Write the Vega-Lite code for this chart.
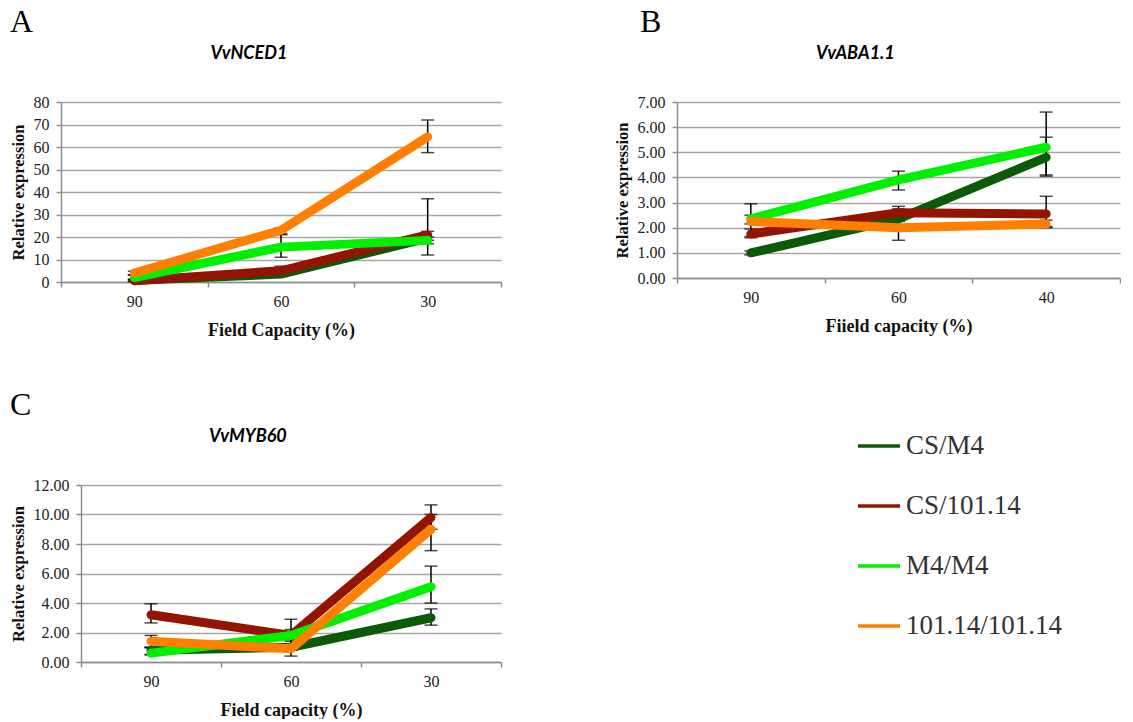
{
  "$schema": "https://vega.github.io/schema/vega-lite/v6.json",
  "padding": {"left": 9, "top": 6, "right": 0, "bottom": 0},
  "background": "white",
  "datasets": {
    "expr": [
      {"panel": "A", "fc": "90", "series": "CS/M4", "value": 0.8, "lo": 0.3, "hi": 1.3},
      {"panel": "A", "fc": "60", "series": "CS/M4", "value": 3.5, "lo": 2.5, "hi": 4.5},
      {"panel": "A", "fc": "30", "series": "CS/M4", "value": 19.5, "lo": 18.5, "hi": 22.5},
      {"panel": "A", "fc": "90", "series": "CS/101.14", "value": 0.6, "lo": 0.2, "hi": 1.0},
      {"panel": "A", "fc": "60", "series": "CS/101.14", "value": 5, "lo": 3, "hi": 7},
      {"panel": "A", "fc": "30", "series": "CS/101.14", "value": 21, "lo": 12, "hi": 37},
      {"panel": "A", "fc": "90", "series": "M4/M4", "value": 2, "lo": 1, "hi": 3},
      {"panel": "A", "fc": "60", "series": "M4/M4", "value": 15.5, "lo": 11, "hi": 21},
      {"panel": "A", "fc": "30", "series": "M4/M4", "value": 18.5, "lo": 17, "hi": 20},
      {"panel": "A", "fc": "90", "series": "101.14/101.14", "value": 4, "lo": 3.2, "hi": 4.8},
      {"panel": "A", "fc": "60", "series": "101.14/101.14", "value": 23, "lo": 21.5, "hi": 24},
      {"panel": "A", "fc": "30", "series": "101.14/101.14", "value": 64.5, "lo": 57.5, "hi": 72},

      {"panel": "B", "fc": "90", "series": "CS/M4", "value": 1.0, "lo": 0.92, "hi": 1.08},
      {"panel": "B", "fc": "60", "series": "CS/M4", "value": 2.35, "lo": 2.25, "hi": 2.45},
      {"panel": "B", "fc": "40", "series": "CS/M4", "value": 4.8, "lo": 4.05, "hi": 5.6},
      {"panel": "B", "fc": "90", "series": "CS/101.14", "value": 1.75, "lo": 1.6, "hi": 1.95},
      {"panel": "B", "fc": "60", "series": "CS/101.14", "value": 2.6, "lo": 2.3, "hi": 2.85},
      {"panel": "B", "fc": "40", "series": "CS/101.14", "value": 2.55, "lo": 2.05, "hi": 3.25},
      {"panel": "B", "fc": "90", "series": "M4/M4", "value": 2.35, "lo": 2.15, "hi": 2.5},
      {"panel": "B", "fc": "60", "series": "M4/M4", "value": 3.9, "lo": 3.5, "hi": 4.25},
      {"panel": "B", "fc": "40", "series": "M4/M4", "value": 5.2, "lo": 4.1, "hi": 6.6},
      {"panel": "B", "fc": "90", "series": "101.14/101.14", "value": 2.25, "lo": 1.65, "hi": 2.95},
      {"panel": "B", "fc": "60", "series": "101.14/101.14", "value": 2.0, "lo": 1.5, "hi": 2.75},
      {"panel": "B", "fc": "40", "series": "101.14/101.14", "value": 2.15, "lo": 2.0, "hi": 2.3},

      {"panel": "C", "fc": "90", "series": "CS/M4", "value": 0.8, "lo": 0.5, "hi": 1.0},
      {"panel": "C", "fc": "60", "series": "CS/M4", "value": 1.0, "lo": 0.8, "hi": 1.2},
      {"panel": "C", "fc": "30", "series": "CS/M4", "value": 3.0, "lo": 2.5, "hi": 3.6},
      {"panel": "C", "fc": "90", "series": "CS/101.14", "value": 3.2, "lo": 2.65, "hi": 3.95},
      {"panel": "C", "fc": "60", "series": "CS/101.14", "value": 1.8, "lo": 1.5, "hi": 2.2},
      {"panel": "C", "fc": "30", "series": "CS/101.14", "value": 9.8, "lo": 9.0, "hi": 10.65},
      {"panel": "C", "fc": "90", "series": "M4/M4", "value": 0.6, "lo": 0.5, "hi": 0.95},
      {"panel": "C", "fc": "60", "series": "M4/M4", "value": 1.8, "lo": 1.2, "hi": 2.9},
      {"panel": "C", "fc": "30", "series": "M4/M4", "value": 5.1, "lo": 4.0, "hi": 6.5},
      {"panel": "C", "fc": "90", "series": "101.14/101.14", "value": 1.4, "lo": 1.0, "hi": 1.8},
      {"panel": "C", "fc": "60", "series": "101.14/101.14", "value": 0.9, "lo": 0.4, "hi": 1.4},
      {"panel": "C", "fc": "30", "series": "101.14/101.14", "value": 9.0, "lo": 7.55, "hi": 10.0}
    ]
  },
  "data": {"name": "expr"},
  "config": {
    "view": {"stroke": null},
    "font": "Liberation Serif",
    "axis": {
      "labelFont": "Liberation Serif", "labelFontSize": 16, "labelColor": "#222",
      "titleFont": "Liberation Serif", "titleFontSize": 18, "titleFontWeight": "bold", "titleColor": "#111",
      "domainColor": "#8c8c8c", "domainWidth": 1.5, "tickColor": "#8c8c8c", "tickWidth": 1.5, "tickSize": 5,
      "gridColor": "#a6a6a6", "gridWidth": 1.5
    },
    "axisY": {"labelPadding": 7, "titlePadding": 7, "titleFontSize": 16.5},
    "axisX": {"labelPadding": 6, "titlePadding": 12, "grid": false, "labelAngle": 0},
    "title": {"color": "#000"},
    "legend": {
      "orient": "none", "legendX": 847, "legendY": 321,
      "symbolType": "stroke", "symbolSize": 1764, "symbolStrokeWidth": 3.5,
      "labelFont": "Liberation Serif", "labelFontSize": 27, "labelColor": "#333",
      "rowPadding": 24, "labelOffset": 4
    }
  },
  "vconcat": [
    {
      "hconcat": [
        {"width": 1, "height": 1, "transform": [{"filter": "false"}], "mark": {"type": "point", "opacity": 0}},
        {
          "hconcat": [
            {
              "title": {"text": "A", "anchor": "start", "frame": "bounds", "font": "Liberation Serif", "fontSize": 32, "fontWeight": "normal", "offset": 6},
              "vconcat": [
                {
                  "width": 440, "height": 180,
                  "title": {"text": "VvNCED1", "anchor": "middle", "frame": "bounds", "font": "Lato", "fontSize": 18, "fontWeight": "bold", "fontStyle": "italic", "offset": 31, "dx": -7},
                  "transform": [{"filter": "datum.panel === 'A'"}],
                  "encoding": {
                    "x": {"field": "fc", "type": "nominal", "bandPosition": 0.5,
                      "scale": {"type": "band", "domain": ["90", "60", "30"], "paddingInner": 0, "paddingOuter": 0},
                      "axis": {"title": "Field Capacity (%)", "tickBand": "extent"}}
                  },
                  "layer": [
                    {"mark": {"type": "rule", "color": "black", "strokeWidth": 1.5},
                      "encoding": {
                        "y": {"field": "lo", "type": "quantitative", "title": "Relative expression",
                          "scale": {"domain": [0, 80], "nice": false},
                          "axis": {"values": [0, 10, 20, 30, 40, 50, 60, 70, 80], "format": "d"}},
                        "y2": {"field": "hi"}}},
                    {"mark": {"type": "tick", "color": "black", "thickness": 1.5, "size": 13},
                      "encoding": {"y": {"field": "lo", "type": "quantitative", "title": "Relative expression",
                        "axis": {"values": [0, 10, 20, 30, 40, 50, 60, 70, 80], "format": "d"}}}},
                    {"mark": {"type": "tick", "color": "black", "thickness": 1.5, "size": 13},
                      "encoding": {"y": {"field": "hi", "type": "quantitative", "title": "Relative expression",
                        "axis": {"values": [0, 10, 20, 30, 40, 50, 60, 70, 80], "format": "d"}}}},
                    {"mark": {"type": "line", "strokeWidth": 9, "strokeCap": "round", "strokeJoin": "round"},
                      "encoding": {
                        "y": {"field": "value", "type": "quantitative", "title": "Relative expression",
                          "axis": {"values": [0, 10, 20, 30, 40, 50, 60, 70, 80], "format": "d"}},
                        "color": {"field": "series", "type": "nominal", "title": null,
                          "scale": {"domain": ["CS/M4", "CS/101.14", "M4/M4", "101.14/101.14"], "range": ["#0b5a08", "#931400", "#00f000", "#ff8000"]}}}}
                  ]
                }
              ]
            },
            {
              "title": {"text": "B", "anchor": "start", "frame": "bounds", "font": "Liberation Serif", "fontSize": 32, "fontWeight": "normal", "offset": 6, "dx": 26},
              "vconcat": [
                {
                  "width": 443, "height": 176,
                  "title": {"text": "VvABA1.1", "anchor": "middle", "frame": "bounds", "font": "Lato", "fontSize": 18, "fontWeight": "bold", "fontStyle": "italic", "offset": 31, "dx": -12},
                  "transform": [{"filter": "datum.panel === 'B'"}],
                  "encoding": {
                    "x": {"field": "fc", "type": "nominal", "bandPosition": 0.5,
                      "scale": {"type": "band", "domain": ["90", "60", "40"], "paddingInner": 0, "paddingOuter": 0},
                      "axis": {"title": "Fiield capacity (%)", "tickBand": "extent"}}
                  },
                  "layer": [
                    {"mark": {"type": "rule", "color": "black", "strokeWidth": 1.5},
                      "encoding": {
                        "y": {"field": "lo", "type": "quantitative", "title": "Relative expression",
                          "scale": {"domain": [0, 7], "nice": false},
                          "axis": {"values": [0, 1, 2, 3, 4, 5, 6, 7], "format": ".2f"}},
                        "y2": {"field": "hi"}}},
                    {"mark": {"type": "tick", "color": "black", "thickness": 1.5, "size": 13},
                      "encoding": {"y": {"field": "lo", "type": "quantitative", "title": "Relative expression",
                        "axis": {"values": [0, 1, 2, 3, 4, 5, 6, 7], "format": ".2f"}}}},
                    {"mark": {"type": "tick", "color": "black", "thickness": 1.5, "size": 13},
                      "encoding": {"y": {"field": "hi", "type": "quantitative", "title": "Relative expression",
                        "axis": {"values": [0, 1, 2, 3, 4, 5, 6, 7], "format": ".2f"}}}},
                    {"mark": {"type": "line", "strokeWidth": 9, "strokeCap": "round", "strokeJoin": "round"},
                      "encoding": {
                        "y": {"field": "value", "type": "quantitative", "title": "Relative expression",
                          "axis": {"values": [0, 1, 2, 3, 4, 5, 6, 7], "format": ".2f"}},
                        "color": {"field": "series", "type": "nominal", "title": null}}}
                  ]
                }
              ]
            }
          ],
          "spacing": 112
        }
      ],
      "spacing": 0
    },
    {
      "hconcat": [
        {"width": 1, "height": 1, "transform": [{"filter": "false"}], "mark": {"type": "point", "opacity": 0}},
        {
          "title": {"text": "C", "anchor": "start", "frame": "bounds", "font": "Liberation Serif", "fontSize": 32, "fontWeight": "normal", "offset": 6},
          "vconcat": [
            {
              "width": 420, "height": 177,
              "title": {"text": "VvMYB60", "anchor": "middle", "frame": "bounds", "font": "Lato", "fontSize": 18, "fontWeight": "bold", "fontStyle": "italic", "offset": 31, "dx": -8},
              "transform": [{"filter": "datum.panel === 'C'"}],
              "encoding": {
                "x": {"field": "fc", "type": "nominal", "bandPosition": 0.5,
                  "scale": {"type": "band", "domain": ["90", "60", "30"], "paddingInner": 0, "paddingOuter": 0},
                  "axis": {"title": "Field capacity (%)", "tickBand": "extent"}}
              },
              "layer": [
                {"mark": {"type": "rule", "color": "black", "strokeWidth": 1.5},
                  "encoding": {
                    "y": {"field": "lo", "type": "quantitative", "title": "Relative expression",
                      "scale": {"domain": [0, 12], "nice": false},
                      "axis": {"values": [0, 2, 4, 6, 8, 10, 12], "format": ".2f"}},
                    "y2": {"field": "hi"}}},
                {"mark": {"type": "tick", "color": "black", "thickness": 1.5, "size": 13},
                  "encoding": {"y": {"field": "lo", "type": "quantitative", "title": "Relative expression",
                    "axis": {"values": [0, 2, 4, 6, 8, 10, 12], "format": ".2f"}}}},
                {"mark": {"type": "tick", "color": "black", "thickness": 1.5, "size": 13},
                  "encoding": {"y": {"field": "hi", "type": "quantitative", "title": "Relative expression",
                    "axis": {"values": [0, 2, 4, 6, 8, 10, 12], "format": ".2f"}}}},
                {"mark": {"type": "line", "strokeWidth": 9, "strokeCap": "round", "strokeJoin": "round"},
                  "encoding": {
                    "y": {"field": "value", "type": "quantitative", "title": "Relative expression",
                      "axis": {"values": [0, 2, 4, 6, 8, 10, 12], "format": ".2f"}},
                    "color": {"field": "series", "type": "nominal", "title": null}}}
              ]
            }
          ]
        }
      ],
      "spacing": 0
    }
  ],
  "spacing": 50
}
